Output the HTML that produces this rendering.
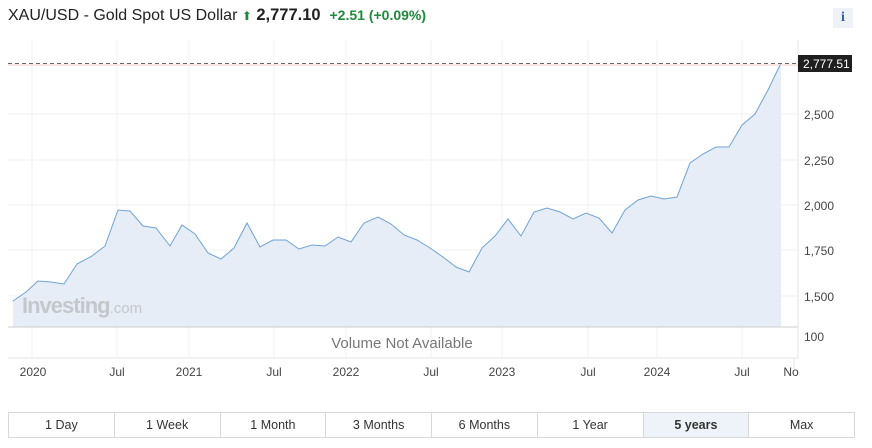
<!DOCTYPE html>
<html><head><style>
body{margin:0;width:872px;height:448px;background:#fff;font-family:"Liberation Sans",sans-serif;position:relative;overflow:hidden}
.t{position:absolute;left:8px;top:6px;font-size:16px;color:#222;white-space:nowrap}
.t b{font-size:16.5px}
.g{color:#1e8a3a;font-weight:bold;font-size:14px}
.info{position:absolute;left:833px;top:8px;width:20px;height:20px;background:#eef1f6;color:#2a62b8;font-weight:bold;font-size:14px;text-align:center;line-height:20px;font-family:"Liberation Serif",serif}
.btns{position:absolute;left:8px;top:412px;width:847px;height:26px;border:1px solid #d8d8d8;display:flex;box-sizing:border-box}
.btns div{flex:1;border-right:1px solid #d8d8d8;text-align:center;font-size:12.5px;line-height:24px;color:#333}
.btns div:last-child{border-right:none}
.btns .a{background:#eef3fa;font-weight:bold}
</style></head><body>
<div class="t">XAU/USD - Gold Spot US Dollar <span style="color:#1e8a3a;font-size:12px">&#x2B06;</span> <b>2,777.10</b>&nbsp; <span class="g">+2.51 (+0.09%)</span></div>
<div class="info">i</div>
<svg width="872" height="400" style="position:absolute;left:0;top:0" font-family="Liberation Sans, sans-serif">
<g stroke="#f0f0f3" stroke-width="1">
<line x1="32" y1="40" x2="32" y2="358"/><line x1="117" y1="40" x2="117" y2="358"/><line x1="189" y1="40" x2="189" y2="358"/><line x1="274" y1="40" x2="274" y2="358"/><line x1="346" y1="40" x2="346" y2="358"/><line x1="431" y1="40" x2="431" y2="358"/><line x1="502" y1="40" x2="502" y2="358"/><line x1="588" y1="40" x2="588" y2="358"/><line x1="657" y1="40" x2="657" y2="358"/><line x1="742" y1="40" x2="742" y2="358"/>
<line x1="8" y1="114" x2="798" y2="114"/><line x1="8" y1="160" x2="798" y2="160"/><line x1="8" y1="205" x2="798" y2="205"/><line x1="8" y1="250" x2="798" y2="250"/><line x1="8" y1="296" x2="798" y2="296"/>
</g>
<polygon fill="#e6edf6" points="13,327 13,301 26,292 38,281 51,282 64,284 77,264 92,256 105,246 118,210 130,211 143,226 156,228 170,246 182,225 195,234 208,253 221,259 234,248 247,223 260,247 273,240 286,240 299,249 312,245 325,246 338,237 351,242 364,223 378,217 391,224 404,235 417,240 430,248 443,257 456,267 469,272 482,248 495,236 508,219 521,236 534,212 547,208 560,212 573,219 586,213 599,218 612,233 625,210 638,200 651,196 664,199 677,197 690,163 703,154 716,147 729,147 742,125 755,114 768,90 781,63 781,327"/>
<polyline fill="none" stroke="#6fa3d6" stroke-width="1" points="13,301 26,292 38,281 51,282 64,284 77,264 92,256 105,246 118,210 130,211 143,226 156,228 170,246 182,225 195,234 208,253 221,259 234,248 247,223 260,247 273,240 286,240 299,249 312,245 325,246 338,237 351,242 364,223 378,217 391,224 404,235 417,240 430,248 443,257 456,267 469,272 482,248 495,236 508,219 521,236 534,212 547,208 560,212 573,219 586,213 599,218 612,233 625,210 638,200 651,196 664,199 677,197 690,163 703,154 716,147 729,147 742,125 755,114 768,90 781,63"/>
<text x="22" y="313" font-size="22" font-weight="bold" fill="#c4c8cc" letter-spacing="-1">Investing<tspan font-size="15" font-weight="normal" letter-spacing="0">.com</tspan></text>
<line x1="8" y1="65" x2="798" y2="65" stroke="#f7cccc" stroke-width="1"/>
<line x1="8" y1="63.5" x2="798" y2="63.5" stroke="#666" stroke-dasharray="4,3" stroke-width="1"/>
<line x1="8" y1="327" x2="798" y2="327" stroke="#ccc"/>
<line x1="8" y1="358" x2="798" y2="358" stroke="#e5e5e5"/>
<line x1="798" y1="40" x2="798" y2="358" stroke="#e5e5e5"/>
<line x1="794" y1="358" x2="794" y2="370" stroke="#e5e5e5"/>
<text x="402" y="348" font-size="15" fill="#777" text-anchor="middle">Volume Not Available</text>
<g font-size="12" fill="#444">
<text x="804" y="119">2,500</text><text x="804" y="165">2,250</text><text x="804" y="210">2,000</text><text x="804" y="255">1,750</text><text x="804" y="301">1,500</text><text x="804" y="341">100</text>
</g>
<rect x="798" y="55" width="54" height="17" fill="#1f1f1f"/>
<text x="803" y="68" font-size="12" fill="#fff">2,777.51</text>
<g font-size="12" fill="#444" text-anchor="middle">
<text x="33" y="376">2020</text><text x="117" y="376">Jul</text><text x="189" y="376">2021</text><text x="274" y="376">Jul</text><text x="346" y="376">2022</text><text x="431" y="376">Jul</text><text x="502" y="376">2023</text><text x="588" y="376">Jul</text><text x="657" y="376">2024</text><text x="742" y="376">Jul</text><text x="791" y="376">No</text>
</g>
</svg>
<div class="btns"><div>1 Day</div><div>1 Week</div><div>1 Month</div><div>3 Months</div><div>6 Months</div><div>1 Year</div><div class="a">5 years</div><div>Max</div></div>
</body></html>
